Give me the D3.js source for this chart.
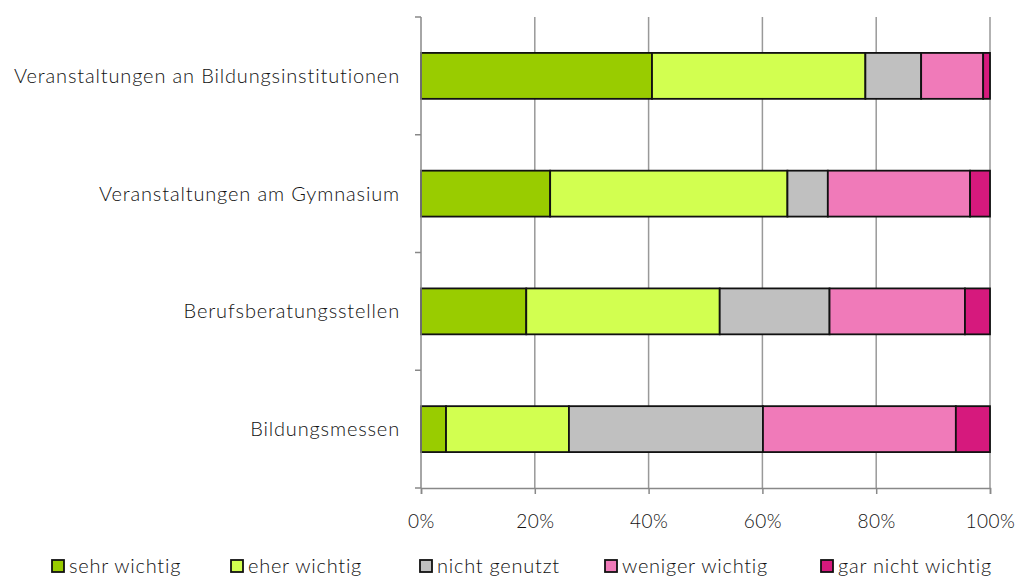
<!doctype html>
<html lang="de">
<head>
<meta charset="utf-8">
<title>Stacked bar chart</title>
<script src="https://d3js.org/d3.v7.min.js"></script>
<style>
  body { margin: 0; background: #fff; }
  svg text { font-family: Lato, "Open Sans", sans-serif; fill: #111; font-weight: 300; }
</style>
</head>
<body>
<script>
// data (percent)
var categories = ['Veranstaltungen an Bildungsinstitutionen', 'Veranstaltungen am Gymnasium',
                  'Berufsberatungsstellen', 'Bildungsmessen'];
var seriesNames = ['sehr wichtig', 'eher wichtig', 'nicht genutzt', 'weniger wichtig', 'gar nicht wichtig'];
var sehrWichtig    = [40.6, 22.7, 18.5, 4.4];
var eherWichtig    = [37.5, 41.7, 34.0, 21.6];
var nichtGenutzt   = [9.8, 7.1, 19.3, 34.1];
var wenigerWichtig = [10.9, 25.0, 23.8, 33.9];
var garNichtWichtig = [1.2, 3.5, 4.4, 6.0];
var tickValues = [0, 20, 40, 60, 80, 100];
var colors = ['#99cc00', '#d2ff50', '#c0c0c0', '#f07ab9', '#d6197d'];

var width = 1019, height = 576;
var margin = {top: 17, right: 29, bottom: 88, left: 421};

var svg = d3.select('body').append('svg')
  .attr('width', width)
  .attr('height', height);

var rows = categories.map(function(c, i) {
  return {cat: c, 'sehr wichtig': sehrWichtig[i], 'eher wichtig': eherWichtig[i],
          'nicht genutzt': nichtGenutzt[i], 'weniger wichtig': wenigerWichtig[i],
          'gar nicht wichtig': garNichtWichtig[i]};
});
var stacked = d3.stack().keys(seriesNames)(rows);

var x = d3.scaleLinear().domain([0, 100]).range([margin.left, width - margin.right]);
var y = d3.scaleBand().domain(categories)
  .range([margin.top, height - margin.bottom])
  .paddingInner(0.61).paddingOuter(0.305);
var color = d3.scaleOrdinal().domain(seriesNames).range(colors);

// vertical grid lines
svg.append('g').selectAll('line')
  .data(tickValues.slice(1))
  .enter().append('line')
  .attr('x1', d => x(d)).attr('x2', d => x(d))
  .attr('y1', margin.top).attr('y2', height - margin.bottom)
  .attr('stroke', '#999').attr('stroke-width', 1.5);

// bars
svg.append('g').selectAll('g')
  .data(stacked)
  .enter().append('g')
  .attr('fill', d => color(d.key))
  .selectAll('rect')
  .data(d => d)
  .enter().append('rect')
  .attr('x', d => x(d[0]))
  .attr('width', d => x(d[1]) - x(d[0]))
  .attr('y', d => y(d.data.cat))
  .attr('height', y.bandwidth())
  .attr('stroke', '#111')
  .attr('stroke-width', 1.8);

// x axis
var xAxis = svg.append('g')
  .attr('transform', 'translate(0,' + (height - margin.bottom) + ')')
  .call(d3.axisBottom(x).tickValues(tickValues).tickFormat(d => d + '%').tickSize(6).tickPadding(21));
xAxis.select('.domain').attr('stroke', '#888').attr('stroke-width', 1.5);
xAxis.selectAll('line').attr('stroke', '#888').attr('stroke-width', 1.5);
xAxis.selectAll('text').style('font-size', '19px').style('letter-spacing', '0.5px')
  .style('font-family', 'Lato, sans-serif').attr('fill', '#111');

// y axis: line with ticks at the category boundaries
var yAxisG = svg.append('g');
yAxisG.append('line')
  .attr('x1', margin.left).attr('x2', margin.left)
  .attr('y1', margin.top).attr('y2', height - margin.bottom)
  .attr('stroke', '#888').attr('stroke-width', 1.5);
var plotH = height - margin.top - margin.bottom;
yAxisG.selectAll('line.tick')
  .data(d3.range(categories.length + 1))
  .enter().append('line')
  .attr('class', 'tick')
  .attr('x1', margin.left - 6).attr('x2', margin.left)
  .attr('y1', i => margin.top + i * plotH / categories.length)
  .attr('y2', i => margin.top + i * plotH / categories.length)
  .attr('stroke', '#888').attr('stroke-width', 1.5);
yAxisG.selectAll('text')
  .data(categories)
  .enter().append('text')
  .attr('x', margin.left - 21)
  .attr('y', d => y(d) + y.bandwidth() / 2)
  .attr('dy', '0.35em')
  .attr('text-anchor', 'end')
  .style('font-size', '20px')
  .style('letter-spacing', '0.85px')
  .text(d => d);

// legend
var legendX = [52, 231, 420, 605, 821];
var legend = svg.append('g').selectAll('g')
  .data(seriesNames)
  .enter().append('g')
  .attr('transform', (d, i) => 'translate(' + legendX[i] + ',' + 566 + ')');
legend.append('rect')
  .attr('x', 0).attr('y', -6)
  .attr('width', 12).attr('height', 12)
  .attr('fill', d => color(d))
  .attr('stroke', '#111').attr('stroke-width', 1.8);
legend.append('text')
  .attr('x', 17).attr('dy', '0.35em')
  .style('font-size', '20px')
  .style('letter-spacing', '0.75px')
  .text(d => d);
</script>
</body>
</html>
